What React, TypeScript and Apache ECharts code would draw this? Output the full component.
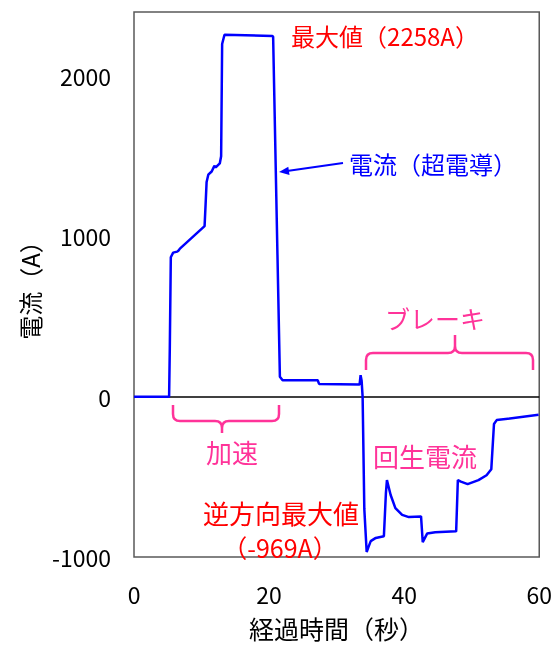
import React, { useEffect, useRef } from "react";
import * as echarts from "echarts";

// elapsed time (s)
const timeValues: number[] = [
  0, 5.2, 5.3, 5.45, 5.8, 6.4, 6.6, 6.8, 10.45, 10.6, 10.75, 11.0, 11.5, 11.9, 12.1, 12.7, 12.9, 13.05, 13.4,
  20.5, 20.6, 21.6, 22.0, 27.2, 27.4, 33.4, 33.55, 33.7, 33.85, 34.1, 34.45, 34.7, 35.05, 35.8, 37.0, 37.3, 37.45,
  38.0, 38.7, 39.7, 40.7, 42.5, 42.75, 43.4, 44.6, 47.7, 47.95, 48.4, 49.4, 51.0, 52.2, 52.9, 53.3, 53.7, 59.9, 60,
];
// current (A)
const currentValues: number[] = [
  0, 0, 300, 870, 899, 905, 912, 924, 1064, 1200, 1340, 1385, 1405, 1440, 1430, 1455, 1500, 2200, 2258,
  2250, 2245, 125, 103, 103, 80, 76, 134, 100, 0, -700, -969, -940, -901, -881, -870, -600, -520,
  -613, -695, -737, -751, -747, -907, -854, -846, -840, -520, -530, -545, -520, -490, -453, -170, -146, -113, -112,
];

const xTicks = [0, 20, 40, 60];
const yTicks = [-1000, 0, 1000, 2000];

const xAxisTitle = "経過時間（秒）";
const yAxisTitle = "電流（A）";
const seriesName = "電流（超電導）";
const maxLabel = "最大値（2258A）";
const brakeLabel = "ブレーキ";
const accelLabel = "加速";
const regenLabel = "回生電流";
const revMaxLabel1 = "逆方向最大値";
const revMaxLabel2 = "（-969A）";

const FONT = '"Noto Sans CJK JP", "Noto Sans", sans-serif';
const BLUE = "#0000FF";
const RED = "#FF0000";
const PINK = "#FF3399";

const brakeBraceD =
  "M366 370 L366 360 Q366 353 373 353 L448 353 Q455 353 455 346 L455 335 M455 346 Q455 353 462 353 L526 353 Q533 353 533 360 L533 370";
const accelBraceD =
  "M173 405 L173 414 Q173 421 180 421 L215 421 Q222 421 222 428 L222 433 M222 428 Q222 421 229 421 L272 421 Q279 421 279 414 L279 405";

echarts.graphic.registerShape("brakeBrace", echarts.graphic.extendPath(brakeBraceD, {}));
echarts.graphic.registerShape("accelBrace", echarts.graphic.extendPath(accelBraceD, {}));

function txt(text: string, x: number, y: number, color: string, size: number) {
  return {
    type: "text",
    x,
    y,
    style: {
      text,
      fill: color,
      font: `${size}px ${FONT}`,
      textAlign: "center",
      textVerticalAlign: "middle",
      align: "center",
      verticalAlign: "middle",
    },
    silent: true,
  };
}

export default function App() {
  const ref = useRef<HTMLDivElement>(null);
  useEffect(() => {
    if (!ref.current) return;
    const chart = echarts.init(ref.current, undefined, { renderer: "svg" });
    const data = timeValues.map((t, i) => [t, currentValues[i]]);
    chart.setOption({
      animation: false,
      grid: {
        left: 134,
        right: 14,
        top: 12,
        bottom: 84,
        show: true,
        borderColor: "#595959",
        borderWidth: 1.5,
        backgroundColor: "transparent",
      },
      xAxis: {
        type: "value",
        min: xTicks[0],
        max: xTicks[xTicks.length - 1],
        interval: 20,
        axisLine: { show: false },
        axisTick: { show: false },
        splitLine: { show: false },
        axisLabel: { fontSize: 23, color: "#000", fontFamily: FONT, margin: 26 },
        name: xAxisTitle,
        nameLocation: "middle",
        nameGap: 58,
        nameTextStyle: { fontSize: 25, color: "#000", fontFamily: FONT },
      },
      yAxis: {
        type: "value",
        min: yTicks[0],
        max: 2400,
        interval: 1000,
        axisLine: { show: false },
        axisTick: { show: false },
        splitLine: { show: false },
        axisLabel: {
          fontSize: 23,
          color: "#000",
          fontFamily: FONT,
          margin: 23,
          showMaxLabel: false,
          formatter: (v: number) => (yTicks.includes(v) ? String(v) : ""),
        },
        name: yAxisTitle,
        nameLocation: "middle",
        nameGap: 86,
        nameTextStyle: { fontSize: 24, color: "#000", fontFamily: FONT },
      },
      series: [
        {
          name: seriesName,
          type: "line",
          data,
          showSymbol: false,
          symbol: "none",
          lineStyle: { color: BLUE, width: 2.5 },
          itemStyle: { color: BLUE },
          z: 3,
          markLine: {
            silent: true,
            symbol: "none",
            label: { show: false },
            lineStyle: { color: "#000", width: 1.5, type: "solid" },
            data: [{ yAxis: 0 }],
            z: 2,
          },
        },
      ],
      graphic: [
        txt(maxLabel, 385, 35, RED, 24),
        txt(seriesName, 433, 163, BLUE, 24),
        {
          type: "line",
          shape: { x1: 343, y1: 163, x2: 287, y2: 171 },
          style: { stroke: BLUE, lineWidth: 2 },
          silent: true,
        },
        {
          type: "polygon",
          shape: { points: [[279, 172], [289.5, 175], [288.3, 166.8]] },
          style: { fill: BLUE },
          silent: true,
        },
        txt(brakeLabel, 435, 318, PINK, 25),
        {
          type: "brakeBrace",
          x: 0,
          y: 0,
          style: { stroke: PINK, fill: "none", lineWidth: 2.5 },
          silent: true,
        },
        {
          type: "accelBrace",
          x: 0,
          y: 0,
          style: { stroke: PINK, fill: "none", lineWidth: 2.5 },
          silent: true,
        },
        txt(accelLabel, 232, 451, PINK, 26),
        txt(regenLabel, 425, 455, PINK, 26),
        txt(revMaxLabel1, 281, 512, RED, 26),
        txt(revMaxLabel2, 280, 547, RED, 25),
      ],
    });
    return () => chart.dispose();
  }, []);
  return (
    <div
      ref={ref}
      style={{ position: "fixed", left: 0, top: 0, width: 555, height: 645 }}
    />
  );
}
